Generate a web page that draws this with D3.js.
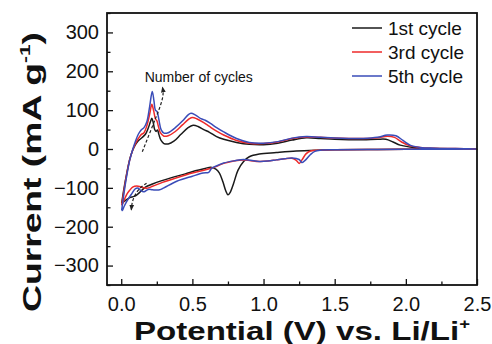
<!DOCTYPE html>
<html>
<head>
<meta charset="utf-8">
<script src="https://cdn.jsdelivr.net/npm/d3@7"></script>
<style>
  html, body { margin: 0; padding: 0; background: #fff; }
  svg { display: block; }
  text { font-family: "Liberation Sans", Arial, sans-serif; fill: #111; }
</style>
</head>
<body>
<svg id="chart" width="492" height="344"></svg>
<script>
// Cyclic voltammetry: potential (V vs. Li/Li+) and current (mA g^-1), each cycle
// traced as one closed loop (anodic sweep up, cathodic sweep back down).
const cycleNames = ["1st cycle", "3rd cycle", "5th cycle"];
const cycleColors = ["#1a1a1a", "#ee2a2a", "#3a4cb8"];

const cycle1 = [
  [0.003,-140],[0.02,-100],[0.04,-60],[0.06,-26],[0.08,-4],[0.10,11],[0.12,21],[0.145,29],
  [0.17,38],[0.19,54],[0.205,70],[0.215,79],[0.225,68],[0.235,50],[0.245,45],[0.255,49],
  [0.265,37],[0.28,22],[0.30,14],[0.33,13],[0.37,20],[0.42,38],[0.47,55],[0.505,61],
  [0.54,58],[0.58,50],[0.62,43],[0.67,32],[0.72,25],[0.81,17],[0.90,12],[1.0,11],
  [1.1,15],[1.2,23],[1.3,29],[1.4,27],[1.5,25],[1.6,24],[1.7,24],[1.8,25],[1.86,25],
  [1.91,18],[1.96,10],[2.03,5],[2.1,2],[2.2,1],[2.35,0.5],[2.5,0],
  [2.2,-0.5],[1.8,-1],[1.5,-2],[1.37,-3],[1.23,-5],[1.09,-9],[0.97,-13],[0.90,-20],
  [0.86,-32],[0.82,-55],[0.79,-88],[0.765,-112],[0.75,-118],[0.735,-108],[0.715,-85],
  [0.69,-62],[0.665,-52],[0.63,-47],[0.59,-50],[0.52,-56],[0.45,-64],[0.36,-73],
  [0.28,-82],[0.22,-90],[0.17,-98],[0.14,-108],[0.11,-118],[0.09,-122],[0.06,-125],
  [0.03,-132],[0.01,-138],[0.003,-140]
];

const cycle3 = [
  [0.003,-145],[0.02,-105],[0.04,-62],[0.06,-27],[0.08,-3],[0.10,14],[0.12,27],[0.14,37],
  [0.16,42],[0.18,60],[0.20,90],[0.215,115],[0.228,98],[0.24,78],[0.25,73],[0.26,60],
  [0.275,42],[0.30,33],[0.33,34],[0.38,45],[0.43,62],[0.48,78],[0.50,81],[0.53,78],
  [0.58,68],[0.62,58],[0.67,46],[0.72,36],[0.81,22],[0.90,15],[1.0,14],[1.1,18],
  [1.2,27],[1.3,31],[1.4,30],[1.5,28],[1.6,27],[1.7,27],[1.8,29],[1.87,33],[1.92,30],
  [1.97,18],[2.03,8],[2.1,4],[2.2,2],[2.35,1],[2.5,0],
  [2.2,-0.5],[1.8,-1],[1.5,-2],[1.4,-3],[1.33,-5],[1.30,-12],[1.27,-28],[1.25,-37],
  [1.23,-29],[1.20,-24],[1.15,-25],[1.09,-28],[1.03,-31],[0.97,-32],[0.91,-30],
  [0.86,-28],[0.80,-30],[0.72,-37],[0.66,-46],[0.60,-53],[0.50,-62],[0.39,-74],
  [0.29,-86],[0.22,-96],[0.18,-101],[0.14,-98],[0.11,-95],[0.08,-98],[0.06,-106],
  [0.04,-116],[0.02,-132],[0.008,-142],[0.003,-145]
];

const cycle5 = [
  [0.003,-158],[0.02,-112],[0.04,-66],[0.06,-28],[0.08,-2],[0.10,20],[0.12,38],[0.14,49],
  [0.16,55],[0.18,70],[0.20,110],[0.218,148],[0.23,124],[0.24,100],[0.252,96],[0.265,75],
  [0.28,50],[0.30,41],[0.33,42],[0.38,55],[0.43,72],[0.47,88],[0.49,92],[0.52,88],
  [0.56,78],[0.59,74],[0.63,65],[0.67,55],[0.72,44],[0.81,27],[0.90,17],[1.0,15],
  [1.1,19],[1.2,28],[1.3,32],[1.4,30],[1.5,28],[1.6,27],[1.7,27],[1.8,30],[1.87,36],
  [1.93,34],[1.98,22],[2.03,10],[2.1,4],[2.2,2],[2.35,1],[2.5,0],
  [2.2,-0.5],[1.8,-1],[1.5,-2],[1.4,-3],[1.36,-6],[1.33,-14],[1.29,-30],[1.27,-35],
  [1.25,-27],[1.20,-23],[1.15,-25],[1.09,-28],[1.03,-31],[0.97,-32],[0.91,-29],
  [0.86,-27],[0.80,-30],[0.72,-36],[0.66,-45],[0.635,-50],[0.615,-60],[0.575,-62],
  [0.50,-70],[0.39,-83],[0.30,-100],[0.27,-105],[0.22,-105],[0.19,-104],[0.16,-110],
  [0.14,-108],[0.12,-101],[0.10,-102],[0.07,-117],[0.04,-134],[0.02,-148],[0.008,-158],
  [0.003,-158]
];

const cycles = [cycle1, cycle3, cycle5];

const xTicks = [0, 0.5, 1.0, 1.5, 2.0, 2.5];
const xMinorTicks = [0.25, 0.75, 1.25, 1.75, 2.25];
const yTicks = [-300, -200, -100, 0, 100, 200, 300];
const yMinorTicks = [-350, -250, -150, -50, 50, 150, 250, 350];

// Dashed "number of cycles" arrows, in data units
const arrowUp = [[0.148,-7],[0.199,40],[0.246,83],[0.282,117],[0.298,143],[0.290,158]];
const arrowDown = [[0.178,-88],[0.13,-100],[0.095,-118],[0.075,-138],[0.071,-156]];
const annotationText = "Number of cycles";
const annotationPos = [0.165, 172];

const svg = d3.select("#chart");
const margin = { left: 107, right: 15, top: 13, bottom: 59 };
const W = 492, H = 344;

const x = d3.scaleLinear().domain([-0.1, 2.5]).range([margin.left, W - margin.right]);
const y = d3.scaleLinear().domain([-350, 350]).range([H - margin.bottom, margin.top]);

// Minor ticks
svg.append("g")
  .attr("transform", `translate(${margin.left},0)`)
  .call(d3.axisLeft(y).tickValues(yMinorTicks).tickSize(-3.5).tickFormat(""))
  .call(g => g.select(".domain").remove());
svg.append("g")
  .attr("transform", `translate(0,${H - margin.bottom})`)
  .call(d3.axisBottom(x).tickValues(xMinorTicks).tickSize(-3.5).tickFormat(""))
  .call(g => g.select(".domain").remove());

// Major ticks with labels
const yAxis = svg.append("g")
  .attr("transform", `translate(${margin.left},0)`)
  .call(d3.axisLeft(y).tickValues(yTicks).tickSize(-6).tickPadding(8).tickFormat(d3.format("d")));
yAxis.select(".domain").remove();
yAxis.selectAll("text").attr("font-size", 20).attr("font-family", "Liberation Sans, Arial, sans-serif").attr("fill", "#111");

const xAxis = svg.append("g")
  .attr("transform", `translate(0,${H - margin.bottom})`)
  .call(d3.axisBottom(x).tickValues(xTicks).tickSize(-6).tickPadding(12).tickFormat(d3.format(".1f")));
xAxis.select(".domain").remove();
xAxis.selectAll("text").attr("font-size", 20).attr("font-family", "Liberation Sans, Arial, sans-serif").attr("fill", "#111");

svg.selectAll(".tick line").attr("stroke", "#111").attr("stroke-width", 1.3);

// Curves
const line = d3.line().x(d => x(d[0])).y(d => y(d[1])).curve(d3.curveCatmullRom.alpha(0.5));
const plot = svg.append("g");
cycles.forEach((c, i) => {
  plot.append("path")
    .attr("d", line(c))
    .attr("fill", "none")
    .attr("stroke", cycleColors[i])
    .attr("stroke-width", 1.5)
    .attr("stroke-linejoin", "round");
});

// Frame
svg.append("rect")
  .attr("x", margin.left).attr("y", margin.top)
  .attr("width", W - margin.left - margin.right)
  .attr("height", H - margin.top - margin.bottom)
  .attr("fill", "none").attr("stroke", "#111").attr("stroke-width", 1.8);

// Annotation arrows
svg.append("defs").append("marker")
  .attr("id", "head").attr("viewBox", "0 0 10 10").attr("refX", 8).attr("refY", 5)
  .attr("markerWidth", 5).attr("markerHeight", 5).attr("orient", "auto")
  .append("path").attr("d", "M0,1 L10,5 L0,9 Z").attr("fill", "#222");
const arrowLine = d3.line().x(d => x(d[0])).y(d => y(d[1])).curve(d3.curveBasis);
[arrowUp, arrowDown].forEach(a => {
  svg.append("path")
    .attr("d", arrowLine(a))
    .attr("fill", "none").attr("stroke", "#222").attr("stroke-width", 1.2)
    .attr("stroke-dasharray", "3,2")
    .attr("marker-end", "url(#head)");
});
svg.append("text")
  .attr("x", x(annotationPos[0])).attr("y", y(annotationPos[1]))
  .attr("font-size", 14).text(annotationText);

// Legend
const legend = svg.append("g");
cycleNames.forEach((name, i) => {
  const ly = 28 + i * 24;
  legend.append("line").attr("x1", 352).attr("x2", 382).attr("y1", ly).attr("y2", ly)
    .attr("stroke", cycleColors[i]).attr("stroke-width", 1.5);
  legend.append("text").attr("x", 388).attr("y", ly).attr("dy", "0.36em")
    .attr("font-size", 19).text(name);
});

// Axis titles (wide bold lettering)
const xt = svg.append("text")
  .attr("x", 134).attr("y", 340)
  .attr("font-size", 25).attr("font-weight", "bold")
  .attr("textLength", 336).attr("lengthAdjust", "spacingAndGlyphs");
xt.append("tspan").text("Potential (V) vs. Li/Li");
xt.append("tspan").attr("dy", -11).attr("font-size", 14).text("+");

const yt = svg.append("text")
  .attr("transform", "translate(41,312) rotate(-90)")
  .attr("font-size", 25).attr("font-weight", "bold")
  .attr("textLength", 280).attr("lengthAdjust", "spacingAndGlyphs");
yt.append("tspan").text("Current (mA g");
yt.append("tspan").attr("dy", -11).attr("font-size", 14).text("-1");
yt.append("tspan").attr("dy", 11).text(")");
</script>
</body>
</html>
